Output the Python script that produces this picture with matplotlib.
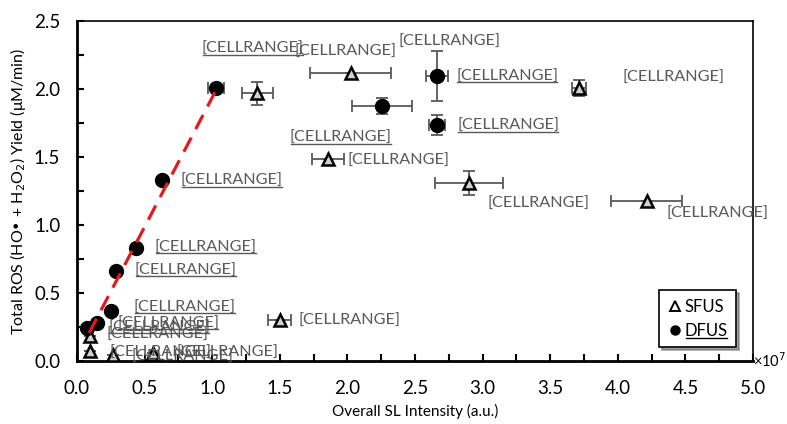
import matplotlib
import matplotlib.pyplot as plt
from matplotlib.ticker import MultipleLocator
matplotlib.use('Agg')

plt.rcParams['font.family'] = ['Lato', 'DejaVu Sans']

# DFUS (dual-frequency) points, x in units of 1e7
dfus_x = [1.028, 2.256, 2.665, 2.665, 0.626, 0.436, 0.288, 0.251, 0.150, 0.076]
dfus_y = [2.007, 1.875, 2.096, 1.735, 1.331, 0.833, 0.662, 0.368, 0.282, 0.245]
dfus_xerr = [0.06, 0.22, 0.08, 0.06, 0, 0, 0, 0, 0, 0]
dfus_yerr = [0, 0.06, 0.185, 0.075, 0, 0, 0, 0, 0, 0]

# SFUS (single-frequency) points
sfus_x = [1.334, 2.024, 3.713, 1.859, 2.899, 4.213, 1.50, 0.096, 0.10, 0.264, 0.56]
sfus_y = [1.968, 2.120, 2.005, 1.483, 1.306, 1.179, 0.300, 0.184, 0.074, 0.044, 0.061]
sfus_xerr = [0.115, 0.30, 0.05, 0.117, 0.25, 0.26, 0.085, 0, 0, 0, 0]
sfus_yerr = [0.086, 0, 0.06, 0, 0.088, 0, 0, 0, 0, 0, 0]

# linear fit through DFUS
fit_x = [0.09, 1.028]
fit_slope = 1.902
fit_icpt = 0.035

point_label = '[CELLRANGE]'

# label offsets in pixels (dx, dy) relative to each point
dfus_off = [(-14, 39), (-92, -32), (19, -1), (20, -1), (19, -1), (19, 0),
            (19, 0), (23, 3), (20, -1), (21, 0)]
sfus_off = [(37, 41), (48, 31), (44, 10), (19, -2), (19, -20), (20, -13),
            (19, -1), (17, 1), (19, -2), (19, -2), (24, 0)]

grey = '#595959'

fig = plt.figure(figsize=(7.87, 4.24), dpi=100)
ax = fig.add_axes([0.0978, 0.1486, 0.859, 0.8019])

fit_y = [fit_slope * v + fit_icpt for v in fit_x]
ax.plot(fit_x, fit_y, color='#e3191c', lw=2.3, dashes=(5, 3), zorder=4)

ax.errorbar(sfus_x, sfus_y, xerr=sfus_xerr, yerr=sfus_yerr, fmt='none',
            ecolor=grey, elinewidth=1.3, capsize=4, capthick=1.3, zorder=2)
ax.errorbar(dfus_x, dfus_y, xerr=dfus_xerr, yerr=dfus_yerr, fmt='none',
            ecolor=grey, elinewidth=1.3, capsize=4, capthick=1.3, zorder=2)

ax.plot(sfus_x, sfus_y, ls='none', marker='^', ms=8, mfc='#d0d0d0',
        mec='black', mew=1.8, label='SFUS', zorder=3)
ax.plot(dfus_x, dfus_y, ls='none', marker='o', ms=10, mfc='black',
        mec='black', label='DFUS', zorder=3)

dfus_texts = []
for x, y, (dx, dy) in zip(dfus_x, dfus_y, dfus_off):
    t = ax.annotate(point_label, (x, y), xytext=(dx, dy),
                    textcoords='offset pixels', ha='left', va='center',
                    fontsize=11.7, color=grey, zorder=5)
    dfus_texts.append(t)
for x, y, (dx, dy) in zip(sfus_x, sfus_y, sfus_off):
    ax.annotate(point_label, (x, y), xytext=(dx, dy), textcoords='offset pixels',
                ha='left', va='center', fontsize=11.7, color=grey, zorder=5)

ax.set_xlim(0, 5.0)
ax.set_ylim(0, 2.5)
ax.xaxis.set_major_locator(MultipleLocator(0.5))
ax.xaxis.set_minor_locator(MultipleLocator(0.25))
ax.yaxis.set_major_locator(MultipleLocator(0.5))
ax.yaxis.set_minor_locator(MultipleLocator(0.25))
ax.xaxis.set_major_formatter(lambda v, p: f'{v:.1f}')
ax.yaxis.set_major_formatter(lambda v, p: f'{v:.1f}')
ax.tick_params(axis='x', which='both', direction='in', length=5, width=1.5,
               labelsize=13.5, pad=14)
ax.tick_params(axis='y', which='both', direction='in', length=5, width=1.5,
               labelsize=13.5, pad=12)

for s in ['left', 'bottom']:
    ax.spines[s].set_linewidth(2)
for s in ['top', 'right']:
    ax.spines[s].set_linewidth(1.2)

ax.set_xlabel('Overall SL Intensity (a.u.)', fontsize=11, labelpad=5)
ax.set_ylabel('Total ROS (HO• + H$_2$O$_2$) Yield (μM/min)', fontsize=11.5,
              labelpad=4)
ax.text(1.0, 0.0, '×10$^7$', transform=ax.transAxes, ha='left', va='center',
        fontsize=10.5)

leg = ax.legend(loc='lower right', bbox_to_anchor=(0.975, 0.04), fontsize=12,
                frameon=True, fancybox=False, shadow=True, edgecolor='black',
                handletextpad=0.05, handlelength=1.0, borderpad=0.5,
                labelspacing=0.5, borderaxespad=0)
leg.get_frame().set_linewidth(1.2)
for h in leg.legend_handles:
    h.set_markersize(6.5)
leg.legend_handles[0].set_markeredgewidth(1.4)
leg.legend_handles[0].set_markerfacecolor('white')

fig.canvas.draw()
# underline DFUS labels (and DFUS legend entry)
rend = fig.canvas.get_renderer()
inv = ax.transData.inverted()
for t in dfus_texts + [leg.get_texts()[1]]:
    bb = t.get_window_extent(rend)
    (x0, y0) = inv.transform((bb.x0 + 1, bb.y0 + 1.5))
    (x1, _) = inv.transform((bb.x1 - 1, bb.y0 + 1.5))
    ax.plot([x0, x1], [y0, y0], color=grey if t in dfus_texts else 'black',
            lw=1, zorder=6, clip_on=False)
ax.set_xlim(0, 5.0)
ax.set_ylim(0, 2.5)

fig.savefig('out.png', dpi=100)
